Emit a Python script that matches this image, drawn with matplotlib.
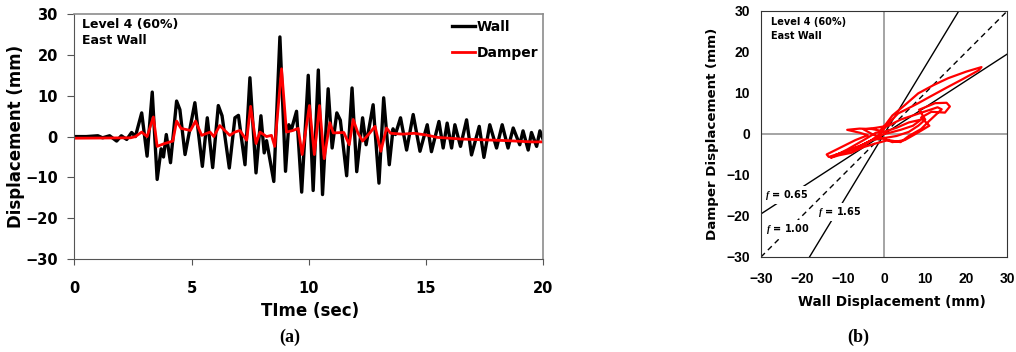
import numpy as np
import matplotlib
matplotlib.use("Agg")
import matplotlib.pyplot as plt

plt.rcParams['font.family'] = ['DejaVu Sans']
plt.rcParams['font.weight'] = 'bold'
plt.rcParams['mathtext.fontset'] = 'custom'
plt.rcParams['mathtext.it'] = 'Liberation Serif:italic:bold'

# (a) time histories: peaks / troughs
wall_t = [0.0, 0.5, 1.0, 1.2, 1.5, 1.8, 2.0, 2.23, 2.44, 2.6, 2.87, 3.1, 3.32, 3.53,
          3.7, 3.8, 3.92, 4.1, 4.36, 4.5, 4.72, 5.14, 5.46, 5.67, 5.9, 6.14, 6.3,
          6.61, 6.85, 7.0, 7.28, 7.49, 7.75, 7.96, 8.1, 8.2, 8.51, 8.77, 9.01,
          9.15, 9.25, 9.48, 9.7, 9.98, 10.19, 10.41, 10.59, 10.83, 11.0, 11.2,
          11.35, 11.62, 11.85, 12.05, 12.3, 12.45, 12.75, 13.0, 13.2, 13.44,
          13.6, 13.7, 13.92, 14.18, 14.46, 14.75, 15.06, 15.24, 15.56, 15.74,
          15.91, 16.1, 16.24, 16.48, 16.74, 16.95, 17.28, 17.48, 17.73, 18.02,
          18.26, 18.51, 18.73, 19.01, 19.15, 19.37, 19.51, 19.73, 19.87, 20.0]
wall_d = [0.0, 0.0, 0.2, -0.3, 0.2, -1.1, 0.2, -0.7, 1.0, 0.0, 5.8, -4.8, 10.9, -10.5,
          -3.0, -5.0, 0.5, -6.4, 8.7, 6.6, -4.4, 8.3, -7.3, 4.6, -7.6, 7.6, 5.1,
          -7.7, 4.6, 5.2, -6.9, 14.4, -8.9, 5.1, -4.0, -1.0, -11.0, 24.4, -8.5,
          2.9, 1.5, 6.2, -13.6, 15.0, -13.2, 16.3, -14.2, 11.7, -2.8, 5.8,
          4.0, -9.6, 11.9, -8.6, 4.6, -2.0, 7.8, -11.4, 9.5, -6.9,
          1.9, 0.5, 4.6, -3.3, 5.4, -3.6, 2.9, -3.7, 3.7, -2.8,
          3.3, -2.8, 2.9, -2.4, 4.1, -4.5, 2.5, -5.1, 2.9, -2.8,
          2.9, -2.8, 2.1, -2.0, 1.4, -3.3, 1.0, -2.4, 1.4, -0.6]

damp_t = [0.0, 2.4, 2.6, 2.87, 3.1, 3.37, 3.53, 3.8, 4.2, 4.36, 4.55, 4.95, 5.17,
          5.43, 5.79, 5.95, 6.2, 6.63, 6.85, 7.06, 7.35, 7.52, 7.75, 7.92, 8.2,
          8.41, 8.55, 8.84, 9.05, 9.33, 9.55, 9.72, 10.03, 10.24, 10.46, 10.66,
          10.9, 11.05, 11.5, 11.73, 11.9, 12.1, 12.3, 12.61, 12.83, 13.08, 13.32,
          13.5, 14.0, 14.5, 15.0, 15.5, 16.5, 17.5, 18.5, 19.5, 20.0]
damp_d = [-0.4, -0.3, 0.0, 1.1, 0.0, 4.8, -2.4, -1.8, -1.1, 3.8, 2.0, 1.5, 3.8,
          0.3, 1.1, 0.0, 2.7, 0.3, 1.1, 1.5, -0.9, 7.4, -1.7, 1.1, 0.0,
          0.3, -2.4, 16.6, 1.1, 1.5, 2.0, -4.4, 7.6, -4.4, 7.6, -5.4,
          3.4, 0.9, 1.0, -2.0, 4.2, 0.9, -1.1, 0.9, 2.5, -3.6, 2.1,
          0.8, 0.6, 0.8, 0.4, -0.2, -0.6, -0.8, -1.0, -1.3, -1.3]

# (b) hysteresis path (wall disp, damper disp)
hyst_x = [0, -2, -5, -9, -13.5, -14, -11, -7, -4, -6, -9, -6, -3, -1, 0.5, 2, 5,
          8.3, 12, 15.6, 20, 23.7, 23, 19, 15.6, 11, 8.3, 5, 3.4, 1, -1, -4, -8,
          -12, -10, -6, -3, 0, 3, 6, 8.3, 10, 8.5, 12.4, 15.2, 16, 14.8, 11.5, 9,
          11, 8, 5, 2, 0, -3, -5, -2, 1, 4, 7, 10, 13, 14, 11, 9, 6, 4, 1, -2, -5,
          -8, -11, -13, -9, -5, -2, 0, 3, 6, 9, 7, 4, 1, 0]
hyst_y = [0, -1, -2.5, -4.2, -5.6, -5, -3.5, -1.5, -0.3, 0.3, 1.0, 1.3, 1.2, 0.8,
          2.5, 4.5, 7, 9.9, 11.9, 13.6, 15.2, 16.3, 15.5, 13.3, 11.5, 9, 7.5,
          5.8, 5, 2.5, 0, -2.2, -4, -5.2, -4.5, -3, -1.5, -1, -0.5, 0.5, 2, 3.5,
          5.9, 7.5, 7.6, 6.7, 5.2, 5.4, 4, 2, 0.2, -1.5, -2.0, -1.2, 0, 1.1, 1.5,
          2, 3.5, 4.5, 5.5, 6.5, 6, 3.2, 1.2, -0.5, -2.0, -1.5, -2.3, -3.2, -4.6,
          -5.2, -5.8, -3.8, -1.5, 0.3, 0.5, 1.5, 2.8, 3.5, 2, 1, 0.2, 0]

ratios = [0.65, 1.00, 1.65]
ratio_labels = ["$f$ = 0.65", "$f$ = 1.00", "$f$ = 1.65"]
ratio_pos = [(-23.8, -14.8), (-23.5, -23.3), (-10.9, -19.0)]

fig = plt.figure(figsize=(10.16, 3.52), dpi=100)

# ---------- (a) ----------
ax = fig.add_axes([0.0733, 0.264, 0.4611, 0.696])
ax.plot(wall_t, wall_d, color='black', lw=2.4, label='Wall', solid_joinstyle='round')
ax.plot(damp_t, damp_d, color='#ff0000', lw=2.0, label='Damper', solid_joinstyle='round')
ax.set_xlim(0, 20)
ax.set_ylim(-30, 30)
ax.set_xticks([0, 5, 10, 15, 20])
ax.set_yticks([-30, -20, -10, 0, 10, 20, 30])
ax.tick_params(axis='x', direction='out', length=4, pad=12, labelsize=10.5, color='#555555')
ax.tick_params(axis='y', direction='out', length=5, pad=7, labelsize=10.5, color='#555555')
for s in ['left', 'bottom']:
    ax.spines[s].set_color('#555555')
for s in ['top', 'right']:
    ax.spines[s].set_color('#8c8c8c')
    ax.spines[s].set_linewidth(1.2)
ax.set_ylabel('Displacement (mm)', fontsize=12, fontweight='bold')
ax.yaxis.set_label_coords(-0.105, 0.5)
ax.set_xlabel('TIme (sec)', fontsize=12, fontweight='bold')
ax.xaxis.set_label_coords(0.503, -0.175)
ax.text(0.016, 0.985, 'Level 4 (60%)\nEast Wall', transform=ax.transAxes,
        fontsize=9, fontweight='bold', va='top', ha='left', linespacing=1.3)
ax.legend(loc='upper right', bbox_to_anchor=(0.99, 0.975), frameon=False,
          fontsize=10, handlelength=1.7, handletextpad=0.1, labelspacing=0.85,
          borderpad=0, borderaxespad=0)

# ---------- (b) ----------
bx = fig.add_axes([0.749, 0.270, 0.2425, 0.699])
bx.axhline(0, color='#8c8c8c', lw=1.1, zorder=1)
bx.axvline(0, color='#8c8c8c', lw=1.1, zorder=1)
lim = np.array([-30, 30])
for r, lab, pos in zip(ratios, ratio_labels, ratio_pos):
    if r == 1.0:
        bx.plot(lim, r * lim, color='black', lw=1.0, ls='--', dashes=(4, 3), zorder=2)
    else:
        bx.plot(lim, r * lim, color='black', lw=1.0, zorder=2)
    bx.text(pos[0], pos[1], lab, fontsize=7, fontweight='bold', ha='center', va='center',
            bbox=dict(facecolor='white', edgecolor='none', pad=1.5), zorder=4)
bx.plot(hyst_x, hyst_y, color='#ff0000', lw=1.6, zorder=3)
bx.set_xlim(-30, 30)
bx.set_ylim(-30, 30)
bx.set_xticks([-30, -20, -10, 0, 10, 20, 30])
bx.set_yticks([-30, -20, -10, 0, 10, 20, 30])
bx.tick_params(axis='both', length=0, labelsize=10, labelfontfamily='Liberation Sans')
bx.tick_params(axis='x', pad=11)
bx.tick_params(axis='y', pad=8)
for s in bx.spines.values():
    s.set_color('#333333')
bx.set_xlabel('Wall Displacement (mm)', fontsize=9.8, fontweight='bold')
bx.xaxis.set_label_coords(0.53, -0.155)
bx.set_ylabel('Damper Displacement (mm)', fontsize=9.6, fontweight='bold')
bx.yaxis.set_label_coords(-0.17, 0.5)
bx.text(0.04, 0.975, 'Level 4 (60%)\nEast Wall', transform=bx.transAxes,
        fontsize=7, fontweight='bold', va='top', ha='left', linespacing=1.5)

fig.text(290 / 1016, 1 - 337 / 352, '(a)', family='Liberation Serif', fontweight='bold',
         fontsize=13, ha='center', va='center')
fig.text(858 / 1016, 1 - 337 / 352, '(b)', family='Liberation Serif', fontweight='bold',
         fontsize=13, ha='center', va='center')

fig.savefig('out.png', dpi=100)
